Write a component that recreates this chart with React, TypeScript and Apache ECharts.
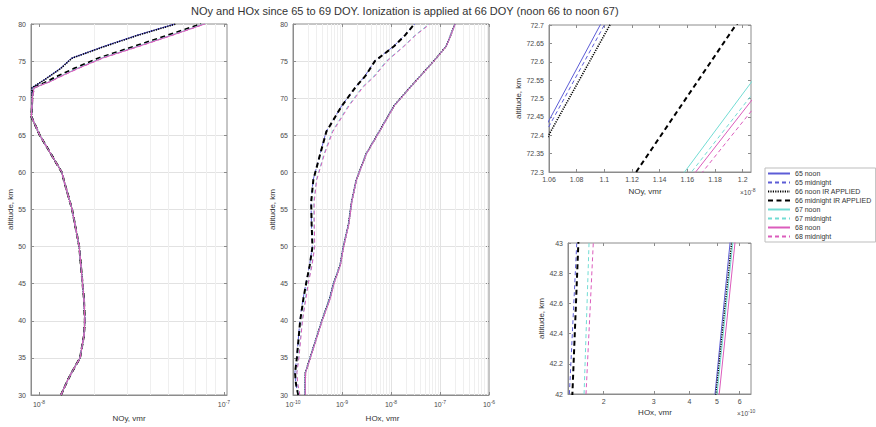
import { useEffect, useRef } from "react";
import * as echarts from "echarts";

const FONT = "'Liberation Sans', Arial, sans-serif";
const TITLE = "NOy and HOx since 65 to 69 DOY. Ionization is applied at 66 DOY (noon 66 to noon 67)";

const SERIES_NAMES = [
  "65 noon",
  "65 midnight",
  "66 noon IR APPLIED",
  "66 midnight IR APPLIED",
  "67 noon",
  "67 midnight",
  "68 noon",
  "68 midnight",
];

// ---------- NOy profiles (values in units of 1e-8 vmr) ----------
const NOY_ALT = [30, 32, 33, 35, 38, 40, 43, 45, 50, 55, 59, 60, 65, 67.5, 70, 71.4, 72.3, 72.7, 74, 75.4, 77, 78.5, 80];
const NOY_LOWER = [1.315, 1.43, 1.5, 1.667, 1.75, 1.77, 1.75, 1.72, 1.65, 1.51, 1.36, 1.33, 1.01, 0.91, 0.92];
const NOY_65_NOON = [...NOY_LOWER, 0.915, 1.04, 1.097, 1.3, 1.5, 2.25, 3.4, 5.41];
const NOY_65_MIDNIGHT = [...NOY_LOWER, 0.915, 1.042, 1.1, 1.31, 1.51, 2.27, 3.42, 5.45];
const NOY_66_NOON_IR = [...NOY_LOWER, 0.915, 1.045, 1.104, 1.31, 1.51, 2.28, 3.45, 5.5];
const NOY_66_MIDNIGHT_IR = [...NOY_LOWER, 0.935, 1.123, 1.195, 1.55, 2.1, 3.3, 5.0, 7.54];
const NOY_67_NOON = [...NOY_LOWER, 0.94, 1.158, 1.237, 1.6, 2.17, 3.42, 5.2, 7.8];
const NOY_67_MIDNIGHT = [...NOY_LOWER, 0.94, 1.163, 1.246, 1.61, 2.19, 3.45, 5.24, 7.85];
const NOY_68_NOON = [...NOY_LOWER, 0.94, 1.166, 1.249, 1.62, 2.2, 3.47, 5.27, 7.87];
const NOY_68_MIDNIGHT = [...NOY_LOWER, 0.945, 1.171, 1.256, 1.63, 2.22, 3.5, 5.3, 7.9];

// ---------- HOx profiles (values in units of 1e-10 vmr) ----------
const HOX_ALT = [30, 31.5, 33, 35, 40, 42, 43, 45, 47.5, 50, 53, 56, 59, 62.5, 65.5, 69, 71.5, 73, 75, 77, 78.5, 80];
const HOX_65_NOON = [1.76, 1.76, 1.78, 2.22, 3.85, 4.92, 5.555, 6.65, 9.1, 10.6, 13.5, 15.6, 19.5, 31, 57, 115, 246, 395, 740, 1330, 1640, 2020];
const HOX_65_MIDNIGHT = [1.27, 1.14, 1.09, 1.19, 1.38, 1.517, 1.61, 1.83, 2.18, 2.48, 2.38, 2.33, 2.58, 3.57, 4.75, 9.9, 18.8, 29.5, 46, 113, 190, 305];
const HOX_66_NOON_IR = [1.77, 1.77, 1.79, 2.23, 3.88, 4.96, 5.63, 6.72, 9.15, 10.7, 13.6, 15.7, 19.6, 31.2, 57.5, 116, 248, 398, 745, 1340, 1650, 2030];
const HOX_66_MIDNIGHT_IR = [1.28, 1.15, 1.1, 1.2, 1.4, 1.554, 1.631, 1.85, 2.2, 2.5, 2.4, 2.35, 2.6, 3.6, 4.8, 10, 19, 30, 47, 115, 195, 300];
const HOX_67_NOON = [1.77, 1.77, 1.8, 2.25, 3.9, 5.0, 5.68, 6.78, 9.2, 10.75, 13.7, 15.8, 19.7, 31.4, 58, 117, 250, 400, 750, 1345, 1660, 2040];
const HOX_67_MIDNIGHT = [1.36, 1.24, 1.19, 1.3, 1.54, 1.708, 1.778, 2.02, 2.42, 2.75, 2.68, 2.65, 3.0, 4.3, 6.3, 13.5, 26, 45, 80, 180, 310, 600];
const HOX_68_NOON = [1.78, 1.78, 1.81, 2.27, 3.95, 5.09, 5.78, 6.88, 9.3, 10.85, 13.8, 15.9, 19.8, 31.6, 58.5, 118, 252, 403, 755, 1350, 1670, 2050];
const HOX_68_MIDNIGHT = [1.38, 1.25, 1.2, 1.32, 1.56, 1.735, 1.84, 2.05, 2.45, 2.78, 2.72, 2.7, 3.05, 4.4, 6.5, 14, 27, 47, 83, 185, 320, 625];

const NOY_SERIES = [NOY_65_NOON, NOY_65_MIDNIGHT, NOY_66_NOON_IR, NOY_66_MIDNIGHT_IR, NOY_67_NOON, NOY_67_MIDNIGHT, NOY_68_NOON, NOY_68_MIDNIGHT];
const HOX_SERIES = [HOX_65_NOON, HOX_65_MIDNIGHT, HOX_66_NOON_IR, HOX_66_MIDNIGHT_IR, HOX_67_NOON, HOX_67_MIDNIGHT, HOX_68_NOON, HOX_68_MIDNIGHT];

// ---------- ticks ----------
const NOY_TICKS = [1, 10]; // 1e-8, 1e-7
const NOY_MINOR = [2, 3, 4, 5, 6, 7, 8, 9];
const HOX_TICKS = [1, 10, 100, 1000, 10000]; // 1e-10 ... 1e-6
const HOX_MINOR = [2, 3, 4, 5, 6, 7, 8, 9, 20, 30, 40, 50, 60, 70, 80, 90, 200, 300, 400, 500, 600, 700, 800, 900, 2000, 3000, 4000, 5000, 6000, 7000, 8000, 9000];
const NOY_ZOOM_TICKS = [1.06, 1.08, 1.1, 1.12, 1.14, 1.16, 1.18, 1.2];
const HOX_ZOOM_TICKS = [2, 3, 4, 5, 6];

const LINE_STYLES: any[] = [
  { color: "#5c5cd6", type: "solid", width: 1 },
  { color: "#5c5cd6", type: [4, 3], width: 1 },
  { color: "#000000", type: [1.2, 1.2], width: 1.6 },
  { color: "#000000", type: [5, 3.5], width: 2 },
  { color: "#72dcd4", type: "solid", width: 1 },
  { color: "#72dcd4", type: [4, 3], width: 1 },
  { color: "#db5cbc", type: "solid", width: 1 },
  { color: "#db5cbc", type: [4, 3], width: 1 },
];

const TXT = "#4a4a4a";
const BOX = "#8c8c8c";
const RICH = {
  b: { fontSize: 7, color: TXT, fontFamily: FONT },
  s: { fontSize: 5, color: TXT, fontFamily: FONT, padding: [0, 0, 5, 0] },
};

function powLabel(v: number, offset: number) {
  const e = Math.round(Math.log10(v)) + offset;
  return `{b|10}{s|${e}}`;
}

function buildOption() {
  const labelBase = { fontSize: 7, color: TXT, fontFamily: FONT };
  const nameStyle = { fontSize: 8, color: "#333", fontFamily: FONT };
  const tick = { inside: true, length: 3, lineStyle: { color: BOX } };
  const minorTick = { inside: true, length: 2, lineStyle: { color: BOX } };
  const axisLine = { show: true, lineStyle: { color: BOX } };
  const split = { show: true, showMinLine: false, showMaxLine: false, lineStyle: { color: "#e2e2e2", width: 1 } };

  const grid = [
    { left: 31, top: 24, width: 196, height: 371 },
    { left: 293, top: 24, width: 196, height: 371 },
    { left: 549, top: 25, width: 202, height: 147 },
    { left: 568, top: 243, width: 183, height: 151 },
  ].map((g) => ({ ...g, show: true, borderColor: BOX, borderWidth: 1, backgroundColor: "#fff" }));

  const xRanges = [
    { type: "log", min: 0.905, max: 10.4 },
    { type: "log", min: 1, max: 10000 },
    { type: "value", min: 1.06, max: 1.206 },
    { type: "log", min: 1.5, max: 6.58 },
  ];

  const xAxis: any[] = [
    {
      gridIndex: 0, ...xRanges[0],
      name: "NOy, vmr", nameLocation: "middle", nameGap: 19, nameTextStyle: nameStyle,
      axisLine, axisTick: { ...tick, customValues: NOY_TICKS },
      axisLabel: { ...labelBase, margin: 4, customValues: NOY_TICKS, formatter: (v: number) => powLabel(v, -8), rich: RICH },
      splitLine: split,
    },
    {
      gridIndex: 1, ...xRanges[1],
      name: "HOx, vmr", nameLocation: "middle", nameGap: 19, nameTextStyle: { ...nameStyle, padding: [0, 17, 0, 0] },
      axisLine, axisTick: { ...tick, customValues: HOX_TICKS },
      axisLabel: { ...labelBase, margin: 4, customValues: HOX_TICKS, formatter: (v: number) => powLabel(v, -10), rich: RICH },
      splitLine: split,
    },
    {
      gridIndex: 2, ...xRanges[2],
      name: "NOy, vmr", nameLocation: "middle", nameGap: 15, nameTextStyle: { ...nameStyle, padding: [0, 10, 0, 0] },
      axisLine, axisTick: { ...tick, customValues: NOY_ZOOM_TICKS },
      axisLabel: { ...labelBase, margin: 4, customValues: NOY_ZOOM_TICKS, formatter: (v: number) => String(parseFloat(v.toFixed(2))) },
      splitLine: { show: false },
    },
    {
      gridIndex: 3, ...xRanges[3],
      name: "HOx, vmr", nameLocation: "middle", nameGap: 14, nameTextStyle: { ...nameStyle, padding: [0, 9, 0, 0] },
      axisLine, axisTick: { ...tick, customValues: HOX_ZOOM_TICKS },
      axisLabel: { ...labelBase, margin: 4, customValues: HOX_ZOOM_TICKS, formatter: (v: number) => String(Math.round(v)) },
      splitLine: { show: false },
    },
  ];

  // frame axes: ticks on the top edge (major + minor) and minor ticks on the bottom edge
  const frameTicks = [
    { major: NOY_TICKS, minor: NOY_MINOR },
    { major: HOX_TICKS, minor: HOX_MINOR },
    { major: NOY_ZOOM_TICKS, minor: [] as number[] },
    { major: HOX_ZOOM_TICKS, minor: [] as number[] },
  ];
  frameTicks.forEach((f, g) => {
    const hidden = { axisLabel: { show: false }, splitLine: { show: false }, axisLine: { show: false } };
    xAxis.push({ gridIndex: g, ...xRanges[g], position: "top", ...hidden, axisTick: { ...tick, customValues: f.major } });
    if (f.minor.length) {
      xAxis.push({ gridIndex: g, ...xRanges[g], position: "top", ...hidden, axisTick: { ...minorTick, customValues: f.minor } });
      xAxis.push({ gridIndex: g, ...xRanges[g], position: "bottom", ...hidden, axisTick: { ...minorTick, customValues: f.minor } });
    }
  });

  const yRanges = [
    { min: 30, max: 80, interval: 5 },
    { min: 30, max: 80, interval: 5 },
    { min: 72.3, max: 72.7, interval: 0.05 },
    { min: 42, max: 43, interval: 0.2 },
  ];
  const yNameGaps = [14.5, 16.5, 5, 8.5];

  const yAxis: any[] = yRanges.map((r, g) => ({
    gridIndex: g, type: "value", ...r,
    name: "altitude, km", nameLocation: "middle", nameRotate: 90, nameGap: yNameGaps[g], nameTextStyle: nameStyle,
    axisLine, axisTick: tick,
    axisLabel: { ...labelBase, margin: 5 },
    splitLine: g < 2 ? split : { show: false },
  }));
  yRanges.forEach((r, g) => {
    yAxis.push({
      gridIndex: g, type: "value", ...r, position: "right",
      axisLabel: { show: false }, splitLine: { show: false }, axisLine: { show: false }, axisTick: tick,
    });
  });

  const panels = [
    { alt: NOY_ALT, values: NOY_SERIES },
    { alt: HOX_ALT, values: HOX_SERIES },
    { alt: NOY_ALT, values: NOY_SERIES },
    { alt: HOX_ALT, values: HOX_SERIES },
  ];

  const series: any[] = [];
  const minorLine = (idx: number, vals: number[]) => ({
    type: "line", name: "minor grid " + idx, xAxisIndex: idx, yAxisIndex: idx, data: [], silent: true, z: 1,
    markLine: {
      silent: true, symbol: "none", z: 1, animation: false,
      label: { show: false },
      lineStyle: { color: "#efefef", width: 1, type: "solid" },
      data: vals.map((v) => ({ xAxis: v })),
    },
  });
  series.push(minorLine(0, NOY_MINOR));
  series.push(minorLine(1, HOX_MINOR));

  panels.forEach((p, g) => {
    SERIES_NAMES.forEach((name, i) => {
      series.push({
        type: "line",
        name,
        xAxisIndex: g,
        yAxisIndex: g,
        data: p.alt.map((a, k) => [p.values[i][k], a]),
        symbol: "none",
        showSymbol: false,
        clip: true,
        silent: true,
        z: 2 + i,
        lineStyle: LINE_STYLES[i],
        itemStyle: { color: LINE_STYLES[i].color },
      });
    });
  });

  const richExp = { a: { fontSize: 6.5, fill: TXT, fontFamily: FONT }, e: { fontSize: 5, fill: TXT, fontFamily: FONT, padding: [0, 0, 5, 0] } };

  return {
    animation: false,
    backgroundColor: "#fff",
    textStyle: { fontFamily: FONT },
    title: {
      text: TITLE, left: 186, top: 0,
      textStyle: { fontSize: 11, fontWeight: "normal", color: "#333", fontFamily: FONT },
    },
    legend: {
      data: SERIES_NAMES, orient: "vertical", left: 765, top: 168,
      itemWidth: 22, itemHeight: 8, itemGap: 2, padding: [2, 4, 2, 2],
      borderColor: "#bdbdbd", borderWidth: 1, backgroundColor: "#fff",
      itemStyle: { opacity: 0 },
      textStyle: { fontSize: 7, color: "#333", fontFamily: FONT },
      selectedMode: false,
    },
    graphic: [
      { type: "text", left: 740, top: 187, style: { text: "{a|×10}{e|-8}", rich: richExp } },
      { type: "text", left: 737, top: 408, style: { text: "{a|×10}{e|-10}", rich: richExp } },
    ],
    grid,
    xAxis,
    yAxis,
    series,
  };
}

export default function App() {
  const ref = useRef<HTMLDivElement>(null);
  useEffect(() => {
    const chart = echarts.init(ref.current!, null, { renderer: "svg" });
    chart.setOption(buildOption() as any);
    return () => chart.dispose();
  }, []);
  return (
    <div
      ref={ref}
      style={{ position: "absolute", left: 0, top: 0, width: 876, height: 427, background: "#fff" }}
    />
  );
}
